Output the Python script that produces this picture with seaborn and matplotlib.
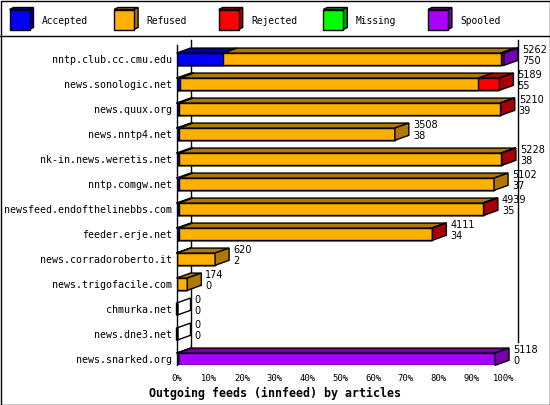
import numpy as np
import pandas as pd
import matplotlib
matplotlib.use("Agg")
from matplotlib import pyplot as plt
from matplotlib.patches import Polygon, Rectangle
import seaborn as sns

# innfeed outgoing feeds, counts of articles per peer
hosts = ["nntp.club.cc.cmu.edu", "news.sonologic.net", "news.quux.org",
         "news.nntp4.net", "nk-in.news.weretis.net", "nntp.comgw.net",
         "newsfeed.endofthelinebbs.com", "feeder.erje.net",
         "news.corradoroberto.it", "news.trigofacile.com", "chmurka.net",
         "news.dne3.net", "news.snarked.org"]
offered = [5262, 5189, 5210, 3508, 5228, 5102, 4939, 4111, 620, 174, 0, 0, 5118]
accepted = [750, 55, 39, 38, 38, 37, 35, 34, 2, 0, 0, 0, 0]
refused = [4458, 4794, 5156, 3470, 5175, 5065, 4884, 4067, 618, 174, 0, 0, 20]
rejected = [0, 340, 15, 0, 15, 0, 20, 10, 0, 0, 0, 0, 0]
missing = [0, 0, 0, 0, 0, 0, 0, 0, 0, 0, 0, 0, 0]
spooled = [54, 0, 0, 0, 0, 0, 0, 0, 0, 0, 0, 0, 5098]

series = ["Accepted", "Refused", "Rejected", "Missing", "Spooled"]
front = ["#0000ff", "#ffb000", "#ff0000", "#00ff00", "#aa00ff"]
dark = ["#0000a8", "#b07800", "#a80000", "#00a800", "#7400ae"]

df = pd.DataFrame({"host": hosts, "Accepted": accepted, "Refused": refused,
                   "Rejected": rejected, "Missing": missing, "Spooled": spooled})
cum = df[series].cumsum(axis=1)

W, H = 550, 405
fig = plt.figure(figsize=(W / 100, H / 100), dpi=100)

# background layer in pixel units: border, legend
bg = fig.add_axes([0, 0, 1, 1])
bg.set_xlim(0, W)
bg.set_ylim(H, 0)
bg.axis("off")
bg.add_patch(Rectangle((0.5, 0.5), W - 1, H - 1, fill=False, lw=1, ec="black"))
bg.plot([0, W], [35.5, 35.5], color="black", lw=1)
for k, name in enumerate(series):
    x0 = 9.5 + k * 104.6
    y0, s, d, e = 9.5, 20, 4, 2
    bg.add_patch(Polygon([(x0, y0), (x0 + d, y0 - e), (x0 + s + d, y0 - e), (x0 + s, y0)],
                         closed=True, fc=dark[k], ec="black", lw=1))
    bg.add_patch(Polygon([(x0 + s, y0), (x0 + s + d, y0 - e), (x0 + s + d, y0 + s - e), (x0 + s, y0 + s)],
                         closed=True, fc=dark[k], ec="black", lw=1))
    bg.add_patch(Rectangle((x0, y0), s, s, fc=front[k], ec="black", lw=1))
    bg.text(x0 + 32.5, 20.5, name, ha="left", va="center",
            fontsize=6.9, family="DejaVu Sans Mono")

# main chart
left_px, right_px, top_px, bot_px = 176.5, 504, 45, 365
ax = fig.add_axes([left_px / W, (H - bot_px) / H, (right_px - left_px) / W, (bot_px - top_px) / H])
ax.set_facecolor("none")

bw = 0.49
for k in range(len(series) - 1, -1, -1):
    sns.barplot(x=cum[series[k]], y=df["host"], order=hosts, orient="h", ax=ax,
                color=front[k], saturation=1, width=bw, edgecolor="black",
                linewidth=1, zorder=3)

xmax = max(offered)
ax.set_xlim(0, xmax)
row0 = 59.2
ax.set_ylim((bot_px - row0) / 25, (top_px - row0) / 25)

cpp = xmax / (right_px - left_px)   # counts per pixel
dx = 14 * cpp
dy = 5 / 25

# back wall
ax.plot([dx, dx], [ax.get_ylim()[0] - dy, ax.get_ylim()[1] - dy], color="black",
        lw=1, zorder=1, clip_on=False)
ax.plot([xmax + dx, xmax + dx], [11.5 - dy, ax.get_ylim()[1] - dy], color="black",
        lw=1, zorder=1, clip_on=False)

vals = df[series].to_numpy()
for i in range(len(hosts)):
    yt, yb = i - bw / 2, i + bw / 2
    start = 0
    last = None
    for k in range(len(series)):
        v = vals[i, k]
        if v > 0:
            end = start + v
            ax.add_patch(Polygon([(start, yt), (end, yt), (end + dx, yt - dy), (start + dx, yt - dy)],
                                 closed=True, fc=dark[k], ec="black", lw=1, zorder=4, clip_on=False))
            start = end
            last = k
    fc = dark[last] if last is not None else "none"
    ax.add_patch(Polygon([(start, yt), (start + dx, yt - dy), (start + dx, yb - dy), (start, yb)],
                         closed=True, fc=fc, ec="black", lw=1, zorder=4, clip_on=False))
    lx = offered[i] + dx + 4 * cpp
    ax.text(lx, i - 0.36, str(offered[i]), ha="left", va="center", fontsize=7,
            family=["Liberation Sans Narrow", "DejaVu Sans"], zorder=5, clip_on=False)
    ax.text(lx, i + 0.08, str(accepted[i]), ha="left", va="center", fontsize=7,
            family=["Liberation Sans Narrow", "DejaVu Sans"], zorder=5, clip_on=False)

ax.set_xticks(np.linspace(0, xmax, 11))
ax.set_xticklabels([f"{p}%" for p in range(0, 101, 10)], fontsize=6.4,
                   family="DejaVu Sans Mono")
ax.set_yticks(range(len(hosts)))
ax.set_yticklabels(hosts, fontsize=7.2, family="DejaVu Sans Mono")
ax.tick_params(axis="y", length=0, pad=3)
ax.tick_params(axis="x", length=0, pad=6.5)
ax.set_xlabel("")
ax.set_ylabel("")
for s in ["top", "right", "bottom"]:
    ax.spines[s].set_visible(False)
ax.spines["left"].set_linewidth(1)
ax.spines["left"].set_zorder(2)

fig.text(275 / W, (H - 393) / H, "Outgoing feeds (innfeed) by articles",
         ha="center", va="center", fontsize=8.4, fontweight="bold",
         family="DejaVu Sans Mono")

fig.savefig("out.png", dpi=100)
